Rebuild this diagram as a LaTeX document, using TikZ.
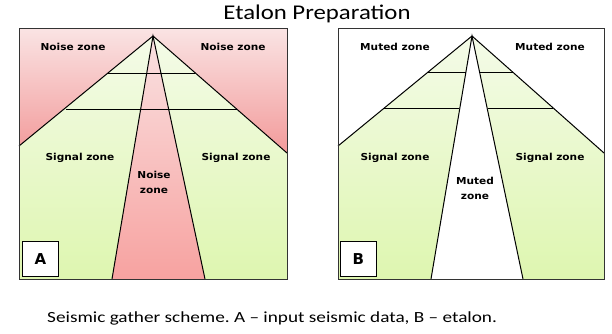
\documentclass[tikz,border=0pt]{standalone}
\usepackage{fontspec}
\setmainfont{Carlito}
\newfontfamily\lblfont{DejaVu Sans Bold}
\begin{document}
\begin{tikzpicture}[x=1pt,y=-1pt,
  zonelbl/.style={font=\lblfont\fontsize{9.6}{11}\selectfont,align=center,inner sep=0pt,xscale=1.1},
  edge/.style={draw=black,line width=1pt},
  pinkshade/.style={top color={rgb,255:red,250;green,226;blue,226},bottom color={rgb,255:red,247;green,162;blue,160}},
  greenshade/.style={top color={rgb,255:red,244;green,251;blue,232},bottom color={rgb,255:red,222;green,246;blue,176}},
  letterbox/.style={draw=black,fill=white,line width=0.8pt,minimum width=36pt,minimum height=35pt,inner sep=0pt,font=\lblfont\fontsize{15}{15}\selectfont}]
\useasboundingbox (0,0) rectangle (612,333);
\fill[white] (0,0) rectangle (612,333);
% ---------- Panel A ----------
\shade[top color={rgb,255:red,250;green,228;blue,228},bottom color={rgb,255:red,242;green,150;blue,150}] (19,28) rectangle (287,160);
\shade[greenshade] (19,146) -- (153,36) -- (287,153) -- (287,279) -- (19,279) -- cycle;
\shade[pinkshade] (153,36) -- (205,279) -- (112,279) -- cycle;
\draw[edge] (19,146) -- (153,36) -- (287,153);
\draw[edge] (112,279) -- (153,36) -- (205,279);
\draw[edge] (108,73) -- (195,73);
\draw[edge] (66,109) -- (237,109);
\draw[black!80,line width=0.8pt] (19,28) rectangle (287,279);
\node[letterbox,anchor=south west] (boxA) at (22,277) {A};
\node[zonelbl] (a1) at (73,47) {Noise zone};
\node[zonelbl] (a2) at (233,47) {Noise zone};
\node[zonelbl] (a3) at (80,158) {Signal zone};
\node[zonelbl] (a4) at (236,158) {Signal zone};
\node[zonelbl] (a5) at (154,182) {Noise\\[4pt]zone};
% ---------- Panel B ----------
\shade[greenshade] (338,146) -- (472,36) -- (431,279) -- (338,279) -- cycle;
\shade[greenshade] (472,36) -- (604,153) -- (604,279) -- (523,279) -- cycle;
\draw[edge] (338,146) -- (472,36) -- (604,153);
\draw[edge] (431,279) -- (472,36) -- (523,279);
\draw[edge] (428,72) -- (466,72);
\draw[edge] (480,72) -- (513,72);
\draw[edge] (384,108) -- (459,108);
\draw[edge] (488,108) -- (553,108);
\draw[black!80,line width=0.8pt] (338,28) rectangle (604,279);
\node[letterbox,anchor=south west] (boxB) at (340,277) {B};
\node[zonelbl] (b1) at (395,47) {Muted zone};
\node[zonelbl] (b2) at (550,47) {Muted zone};
\node[zonelbl] (b3) at (395,158) {Signal zone};
\node[zonelbl] (b4) at (550,158) {Signal zone};
\node[zonelbl] (b5) at (475,188) {Muted\\[4pt]zone};
% ---------- Texts ----------
\node[font=\fontsize{21}{21}\selectfont,inner sep=0pt,xscale=1.18] (title) at (317,14) {Etalon Preparation};
\node[font=\fontsize{15.5}{15.5}\selectfont,inner sep=0pt,anchor=west,xscale=1.24] (caption) at (47,318) {\frenchspacing Seismic gather scheme. A – input seismic data, B – etalon.};
\end{tikzpicture}
\end{document}
